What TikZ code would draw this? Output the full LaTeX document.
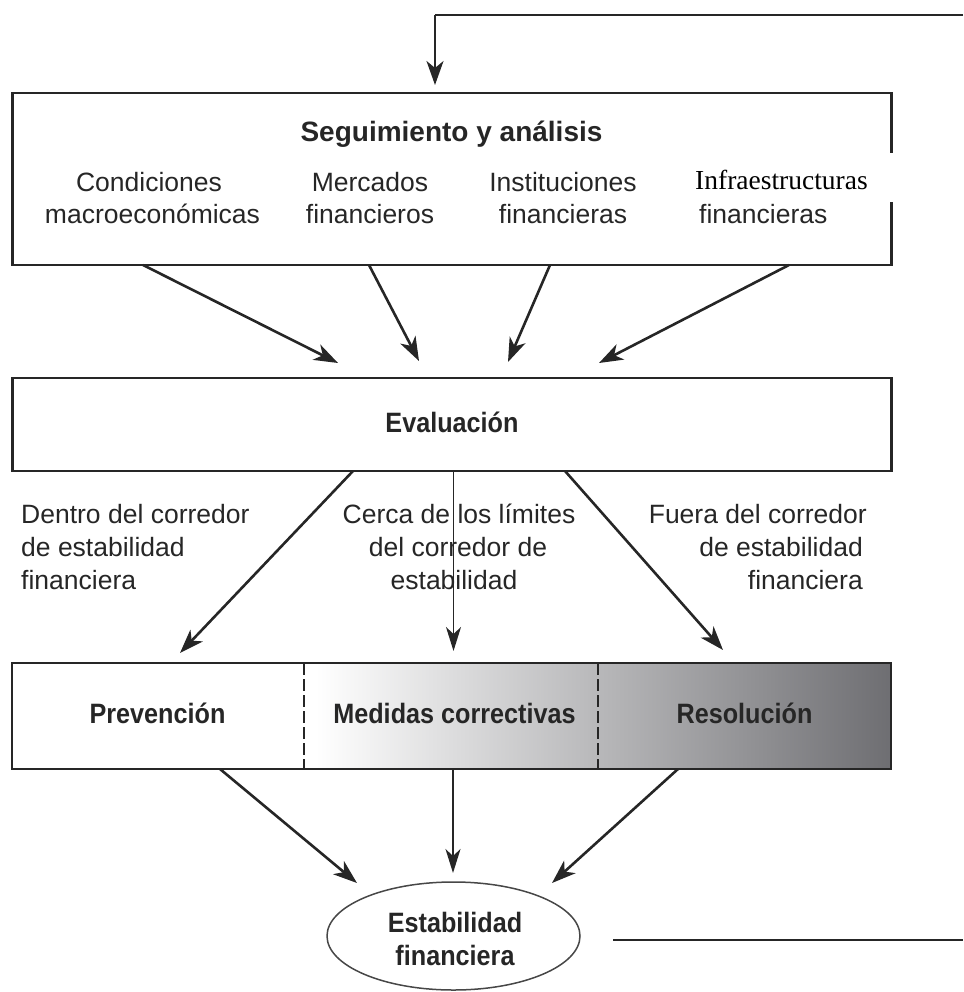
\documentclass[tikz,border=0pt]{standalone}
\usepackage{fontspec}
\setmainfont{Liberation Sans}
\newfontfamily\condbold[FakeStretch=0.9]{Liberation Sans}
\newfontfamily\timespatch{Liberation Serif}
\usetikzlibrary{arrows.meta,shapes.geometric}
\definecolor{ink}{HTML}{262626}
\definecolor{shadeend}{HTML}{6E6E72}
\begin{document}
\begin{tikzpicture}[x=1pt,y=-1pt,
  boxshape/.style={rectangle, inner sep=0pt, outer sep=0pt},
  boxline/.style={draw=ink, line width=2.2pt},
  reg/.style={inner sep=0pt, anchor=base, font=\fontsize{26.5}{32}\selectfont, text=ink},
  bld/.style={inner sep=0pt, anchor=base, font=\condbold\bfseries\fontsize{28}{34}\selectfont, text=ink},
  bldwide/.style={inner sep=0pt, anchor=base, font=\bfseries\fontsize{28}{34}\selectfont, text=ink},
  serifpatch/.style={inner sep=0pt, anchor=base west, font=\timespatch\fontsize{27.5}{32}\selectfont, text=black},
  arr/.style={draw=ink, line width=2.6pt, -{Stealth[length=24pt,width=17pt,inset=7pt]}},
  thinarr/.style={draw=ink, line width=1.6pt, -{Stealth[length=24pt,width=15pt,inset=7pt]}},
  divider/.style={draw=ink, line width=1.4pt, dash pattern=on 12pt off 4pt},
  plainline/.style={draw=ink, line width=2.2pt}
]
\useasboundingbox (0,0) rectangle (963,992);

% ---------- shapes ----------
\node[boxshape, minimum width=879pt, minimum height=172pt] (seg) at (452,179) {};
\node[boxshape, minimum width=879pt, minimum height=93pt] (eval) at (452,424.5) {};
\node[boxshape, minimum width=292pt, minimum height=106pt] (prev) at (158,716) {};
\node[boxshape, minimum width=294pt, minimum height=106pt] (med) at (451,716) {};
\node[boxshape, minimum width=293pt, minimum height=106pt] (res) at (744.5,716) {};
\node[ellipse, draw=ink!85, line width=1.5pt, inner sep=0pt, minimum width=253pt, minimum height=108pt] (est) at (453.5,936) {};

% gradient of the lower box
\shade[left color=white, right color=shadeend] (316,663) rectangle (res.south east);

% borders
\coordinate (gapT) at (891.5,153);
\coordinate (gapB) at (891.5,202);
\draw[boxline] (gapT) -- (seg.north east) -- (seg.north west) -- (seg.south west) -- (seg.south east) -- (gapB);
\draw[boxline] (eval.north west) rectangle (eval.south east);
\draw[boxline] (prev.north west) rectangle (res.south east);
\draw[divider] (med.north west) -- (med.south west);
\draw[divider] (med.north east) -- (med.south east);

% ---------- texts ----------
\node[bldwide] (tseg) at (451.5,142) {Seguimiento y análisis};
\node[reg] (c1) at (149,192) {Condiciones};
\node[reg] (c2) at (152.5,224) {macroeconómicas};
\node[reg] (m1) at (370,192) {Mercados};
\node[reg] (m2) at (370,224) {financieros};
\node[reg] (i1) at (563,192) {Instituciones};
\node[reg] (i2) at (563,224) {financieras};
\node[serifpatch] (f1) at (695,190) {Infraestructuras};
\node[reg, anchor=base west] (f2) at (699,224) {financieras};

\node[bld] (teval) at (452,432) {Evaluación};

\node[reg, anchor=base west] (d1) at (21,523) {Dentro del corredor};
\node[reg, anchor=base west] (d2) at (21,556) {de estabilidad};
\node[reg, anchor=base west] (d3) at (21,589) {financiera};
\node[reg] (k1) at (459,523) {Cerca de los límites};
\node[reg] (k2) at (458,556) {del corredor de};
\node[reg] (k3) at (454,589) {estabilidad};
\node[reg, anchor=base east] (u1) at (867,523) {Fuera del corredor};
\node[reg, anchor=base east] (u2) at (863,556) {de estabilidad};
\node[reg, anchor=base east] (u3) at (863,589) {financiera};

\node[bld] (tprev) at (157.5,723) {Prevención};
\node[bld] (tmed) at (454.5,723) {Medidas correctivas};
\node[bld] (tres) at (744.5,723) {Resolución};

\node[bld] (te1) at (455,932) {Estabilidad};
\node[bld] (te2) at (455,965) {financiera};

% ---------- connectors ----------
\coordinate (fbR) at (963,15);
\coordinate (fbC) at (435,15);
\coordinate (fbE) at (435,85);
\draw[plainline] (fbR) -- (fbC);
\draw[arr, line width=2.2pt] (fbC) -- (fbE);

\coordinate (a1s) at (143,265);  \coordinate (a1e) at (338,363);
\coordinate (a2s) at (369,265);  \coordinate (a2e) at (419,361);
\coordinate (a3s) at (550,265);  \coordinate (a3e) at (508,362);
\coordinate (a4s) at (789,265);  \coordinate (a4e) at (599,363);
\draw[arr] (a1s) -- (a1e);
\draw[arr] (a2s) -- (a2e);
\draw[arr] (a3s) -- (a3e);
\draw[arr] (a4s) -- (a4e);

\coordinate (b1s) at (353,471);  \coordinate (b1e) at (180,653);
\coordinate (b2s) at (453.5,471);  \coordinate (b2e) at (453.5,651);
\coordinate (b3s) at (565,471);  \coordinate (b3e) at (723,650);
\draw[arr] (b1s) -- (b1e);
\draw[thinarr] (b2s) -- (b2e);
\draw[arr] (b3s) -- (b3e);

\coordinate (c1s) at (220,769);  \coordinate (c1e) at (357,883);
\coordinate (c2s) at (453,769);  \coordinate (c2e) at (453,873);
\coordinate (c3s) at (678,769);  \coordinate (c3e) at (552,883);
\draw[arr] (c1s) -- (c1e);
\draw[thinarr] (c2s) -- (c2e);
\draw[arr] (c3s) -- (c3e);

\coordinate (blL) at (613,940);
\coordinate (blR) at (963,940);
\draw[plainline] (blL) -- (blR);
\end{tikzpicture}
\end{document}
